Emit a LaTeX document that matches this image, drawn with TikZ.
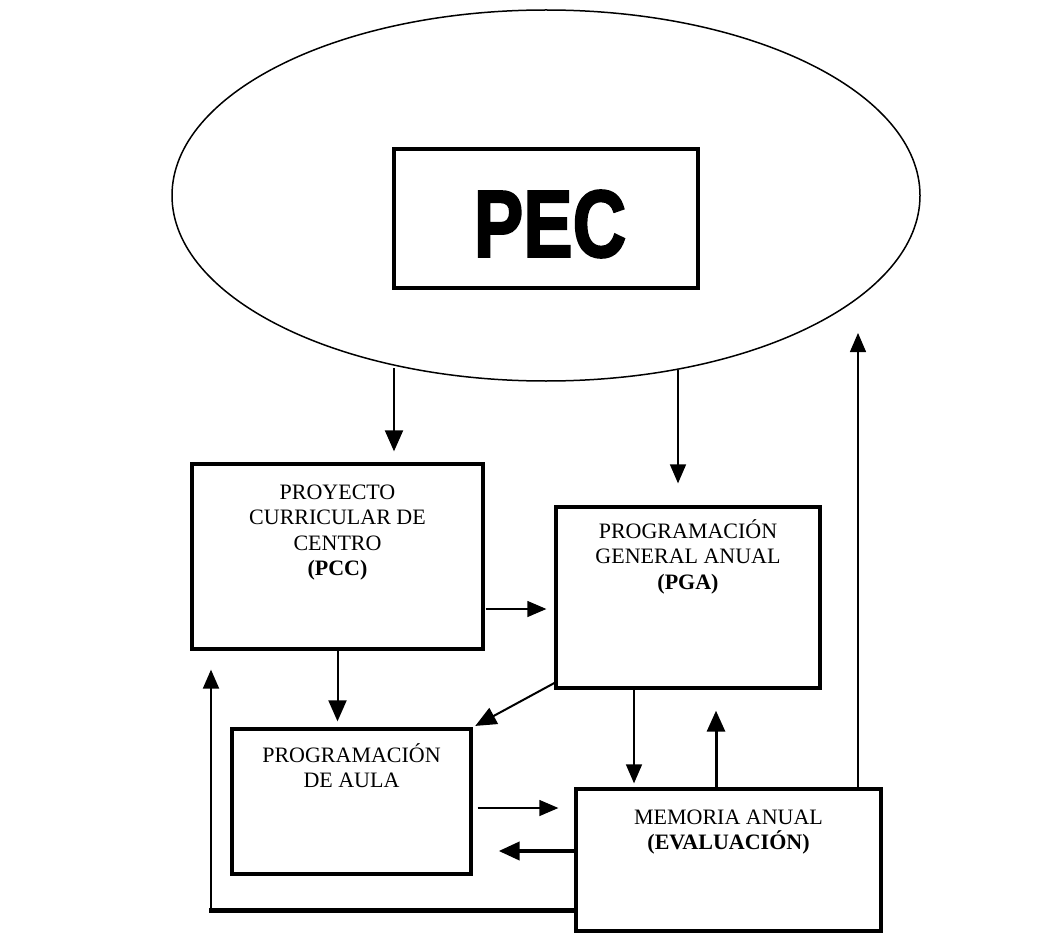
\documentclass[tikz,border=0pt]{standalone}
\usepackage{fontspec}
\setmainfont{Liberation Serif}
\newfontfamily\pecfont[FakeBold=2.5]{Liberation Sans Bold}
\usetikzlibrary{shapes.geometric,arrows.meta}
\tikzset{
  box/.style={draw, line width=3.3pt, inner sep=0pt},
  lbl/.style={align=center, inner sep=0pt, font=\fontsize{22}{25.5}\selectfont},
  arr/.style={-{Triangle[length=21pt,width=18pt]}, line width=2pt},
  thinarr/.style={-{Triangle[length=19pt,width=16pt]}, line width=1.3pt},
}
\begin{document}
\begin{tikzpicture}[x=1pt,y=-1pt]
\useasboundingbox (0,0) rectangle (1062,941);
% ellipse and PEC
\node[draw, ellipse, line width=1.5pt, minimum width=748pt, minimum height=371pt, inner sep=0pt] (ell) at (546,195.5) {};
\node[box, minimum width=304pt, minimum height=139pt] (pec) at (546,218.5) {};
\node[inner sep=0pt] (pect) at (550,224) {\scalebox{0.78}[1]{\pecfont\fontsize{95}{95}\selectfont PEC}};
% boxes
\node[box, minimum width=291pt, minimum height=185pt] (pcc) at (337.5,556.5) {};
\node[box, minimum width=264pt, minimum height=181pt] (pga) at (688,597.5) {};
\node[box, minimum width=239pt, minimum height=145pt] (aula) at (351.5,801.5) {};
\node[box, minimum width=305pt, minimum height=142pt] (mem) at (728.5,860) {};
% labels
\node[lbl, anchor=north] (pcct) at ([yshift=-22pt]pcc.north) {PROYECTO\\CURRICULAR DE\\CENTRO\\\textbf{(PCC)}};
\node[lbl, anchor=north] (pgat) at ([yshift=-14pt]pga.north) {PROGRAMACIÓN\\GENERAL ANUAL\\\textbf{(PGA)}};
\node[lbl, anchor=north] (aulat) at ([yshift=-16pt]aula.north) {PROGRAMACIÓN\\DE AULA};
\node[lbl, anchor=north] (memt) at ([yshift=-22pt]mem.north) {MEMORIA ANUAL\\\textbf{(EVALUACIÓN)}};
% coordinates
\coordinate (e1) at (394,368);
\coordinate (e2) at (678,370);
\coordinate (e3) at (858,333);
\coordinate (a3) at ([yshift=-52.5pt]pcc.east);
\coordinate (a5) at ([yshift=-85.5pt]pga.west);
\coordinate (a6) at ([xshift=-54pt]pga.south);
\coordinate (a7) at ([xshift=-12.5pt]mem.north);
\coordinate (a8) at ([yshift=-6.5pt]aula.east);
\coordinate (a9) at ([yshift=9pt]mem.west);
\coordinate (a10) at ([yshift=-50pt]mem.west);
\coordinate (c10) at ([xshift=-126.5pt]pcc.south |- a10);
\coordinate (a11) at ([xshift=129.5pt]mem.north);
% connectors
\draw[arr] (e1) -- (e1 |- pcc.north) [shorten >=11pt];
\draw[thinarr, line width=1.6pt, shorten >=22pt] (e2) -- (e2 |- pga.north);
\draw[thinarr, shorten <=1pt, shorten >=8pt] (a3) -- (a3 -| pga.west);
\draw[arr, shorten >=6pt] (pcc.south) -- (pcc.south |- aula.north);
\draw[arr, shorten >=3pt] (a5) -- (aula.north east);
\draw[thinarr, line width=1.6pt, shorten >=4pt] (a6) -- (a6 |- mem.north);
\draw[arr, line width=3pt, shorten >=21pt] (a7) -- (a7 |- pga.south);
\draw[thinarr, shorten <=5pt, shorten >=16pt] (a8) -- (a8 -| mem.west);
\draw[arr, line width=4pt, shorten >=26pt] (a9) -- (a9 -| aula.east);
\draw[line width=5pt] (a10) -- ([xshift=-2pt]c10);
\draw[thinarr, line width=2pt, shorten >=19pt] ([yshift=-2.5pt]c10) -- (c10 |- pcc.south);
\draw[thinarr] (a11) -- (e3);
\end{tikzpicture}
\end{document}
